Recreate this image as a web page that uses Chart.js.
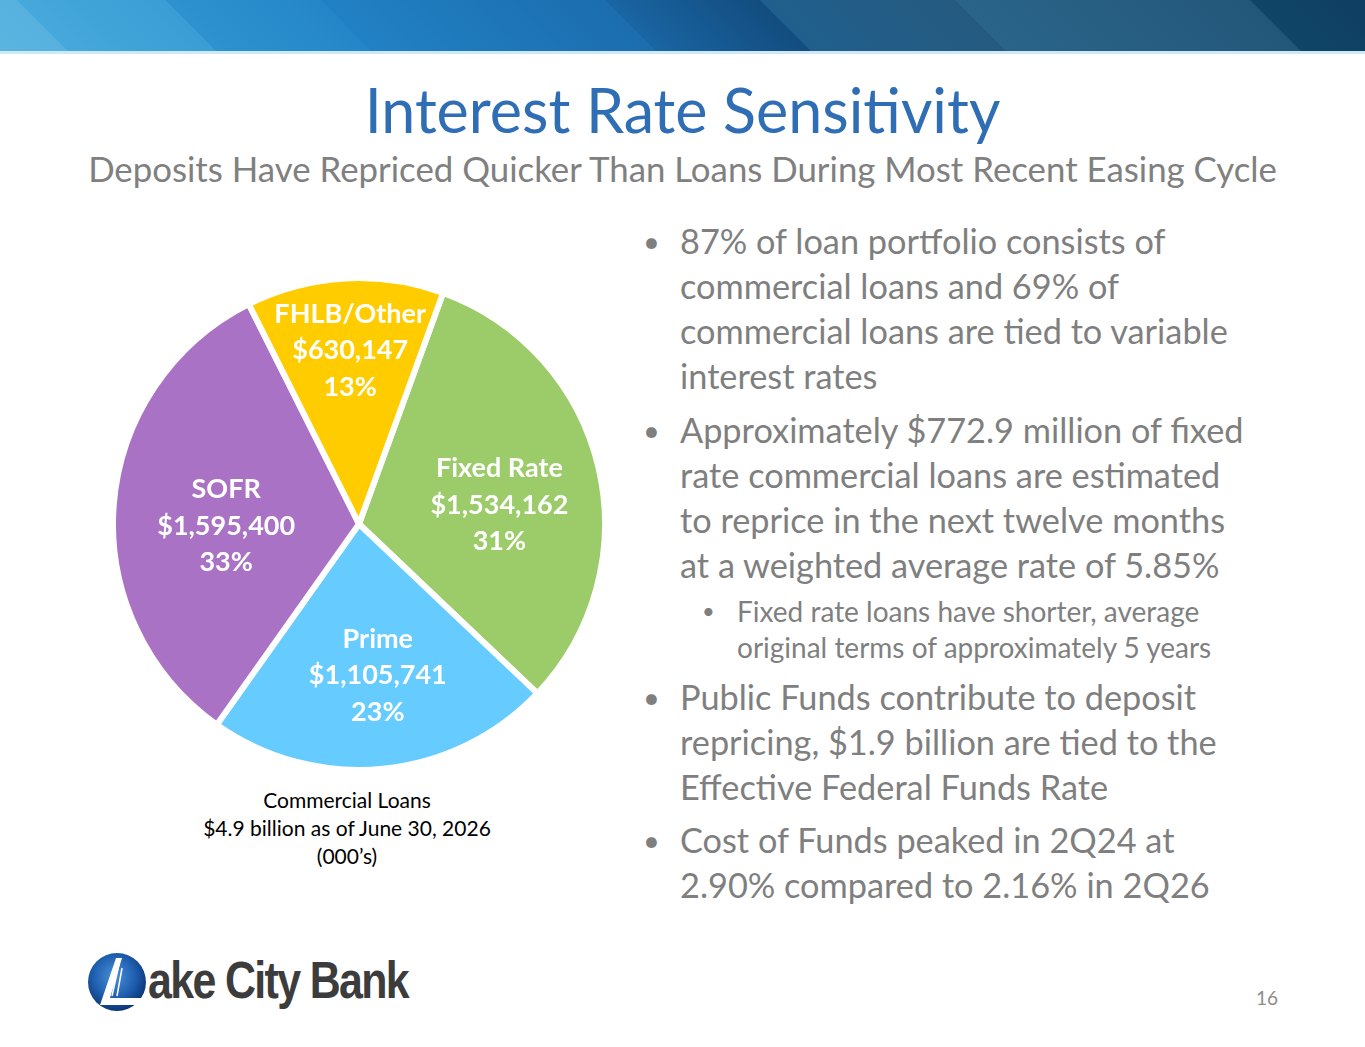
<!DOCTYPE html>
<html>
<head>
<meta charset="utf-8">
<title>Interest Rate Sensitivity</title>
<script src="https://cdn.jsdelivr.net/npm/chart.js@4.4.1/dist/chart.umd.min.js"></script>
<style>
    html, body { margin: 0; padding: 0; background: #FFFFFF; }
    #slide {
        position: relative;
        width: 1365px;
        height: 1047px;
        overflow: hidden;
        background: #FFFFFF;
        font-family: Lato, 'Open Sans', sans-serif;
        color: #7F7F7F;
    }

    /* Header banner dengan pita diagonal */
    .banner {
        position: absolute; left: 0; top: 0; width: 1365px; height: 51px;
        overflow: hidden;
        background: linear-gradient(90deg, #4FAEDD 0%, #2A8FCD 25%, #1C6FB0 45%, #165690 58%, #235E86 75%, #0E3D62 100%);
    }
    .band {
        position: absolute; top: 0; height: 51px;
        transform: skewX(45deg); transform-origin: 0 0;
    }
    .banner-line {
        position: absolute; left: 0; top: 51px; width: 1365px; height: 3px;
        background: #CFE8F6;
    }

    h1 {
        position: absolute; left: 0; top: 75px; width: 1365px; margin: 0;
        text-align: center; font-weight: 400; font-size: 61px; line-height: 70px;
        color: #2F6DB5;
    }
    .subtitle {
        position: absolute; left: 0; top: 149px; width: 1365px; margin: 0;
        text-align: center; font-size: 34.8px; line-height: 40px;
        color: #808080;
    }

    #loanPie { position: absolute; left: 110px; top: 275px; }

    .caption {
        position: absolute; left: 197px; top: 786px; width: 300px;
        text-align: center; font-size: 21px; line-height: 28px; color: #000000;
    }

    .bullet {
        position: absolute; left: 680px; width: 680px; white-space: nowrap;
        font-size: 34.3px; line-height: 45px; color: #7F7F7F;
    }
    .bullet::before {
        content: '\2022'; position: absolute; left: -37px; top: 0;
        font-size: 29px;
    }
    .bullet.sub {
        left: 737px; font-size: 28px; line-height: 36px;
    }
    .bullet.sub::before { left: -35px; font-size: 22px; }

    .page-no {
        position: absolute; left: 1256px; top: 986px; font-size: 19px; color: #8C8C8C;
    }

    .logo { position: absolute; left: 86px; top: 950px; }
    .logo-text {
        position: absolute; left: 148px; top: 948px;
        font-family: 'Liberation Sans', Arial, sans-serif; font-weight: 700;
        font-size: 52px; line-height: 64px; color: #3C3C3C; letter-spacing: -2px;
        transform-origin: 0 50%; white-space: nowrap;
    }
</style>
</head>
<body>
<div id="slide">
    <div class="banner" id="banner"></div>
    <div class="banner-line"></div>

    <h1>Interest Rate Sensitivity</h1>
    <div class="subtitle">Deposits Have Repriced Quicker Than Loans During Most Recent Easing Cycle</div>

    <canvas id="loanPie" width="498" height="498"></canvas>

    <div class="caption">Commercial Loans<br>$4.9 billion as of June 30, 2026<br>(000’s)</div>

    <div class="bullet" style="top:218px">87% of loan portfolio consists of<br>commercial loans and 69% of<br>commercial loans are tied to variable<br>interest rates</div>
    <div class="bullet" style="top:407px">Approximately $772.9 million of fixed<br>rate commercial loans are estimated<br>to reprice in the next twelve months<br>at a weighted average rate of 5.85%</div>
    <div class="bullet sub" style="top:593px">Fixed rate loans have shorter, average<br>original terms of approximately 5 years</div>
    <div class="bullet" style="top:674px">Public Funds contribute to deposit<br>repricing, $1.9 billion are tied to the<br>Effective Federal Funds Rate</div>
    <div class="bullet" style="top:817px">Cost of Funds peaked in 2Q24 at<br>2.90% compared to 2.16% in 2Q26</div>

    <svg class="logo" width="66" height="66" viewBox="0 0 66 66">
        <defs>
            <radialGradient id="globe" cx="0.45" cy="0.4" r="0.6">
                <stop offset="0" stop-color="#4A8FD8"/>
                <stop offset="0.6" stop-color="#1F5FB0"/>
                <stop offset="1" stop-color="#0C3576"/>
            </radialGradient>
        </defs>
        <circle cx="31" cy="32" r="29" fill="url(#globe)"/>
        <polygon points="30,8 36,8 24,48 66,48 66,55 14,55" fill="#FFFFFF"/>
        <line x1="33" y1="14" x2="26" y2="46" stroke="#FFFFFF" stroke-width="1.5"/>
        <line x1="36" y1="18" x2="31" y2="46" stroke="#FFFFFF" stroke-width="1.5"/>
    </svg>
    <div class="logo-text" id="logoText">ake City Bank</div>

    <div class="page-no">16</div>
</div>

<script>
// Data pinjaman komersial (dalam ribuan dolar)
const sliceLabels = ['Fixed Rate', 'Prime', 'SOFR', 'FHLB/Other'];
const sliceValues = [1534162, 1105741, 1595400, 630147];
const slicePercents = [31, 23, 33, 13];
const sliceColors = ['#9CCB69', '#66CCFF', '#AA72C4', '#FFCC00'];

// Pita diagonal pada header: [kiri, lebar, warna awal, warna akhir]
const bandStops = [
    [-60, 77, '#5CB5E0', '#56B1DF'],
    [17, 148, '#46A8DB', '#3A9ED5'],
    [165, 155, '#2D92CF', '#2486C8'],
    [320, 285, '#2181C4', '#1B6DAE'],
    [605, 155, '#1965A4', '#134C7E'],
    [760, 195, '#205F8D', '#255A80'],
    [955, 295, '#2A6489', '#23577A'],
    [1250, 200, '#104568', '#0D395C']
];

function drawBanner() {
    const banner = document.getElementById('banner');
    bandStops.forEach(([left, width, c1, c2]) => {
        const band = document.createElement('div');
        band.className = 'band';
        band.style.left = left + 'px';
        band.style.width = width + 'px';
        band.style.background = `linear-gradient(90deg, ${c1}, ${c2})`;
        banner.appendChild(band);
    });
}

function fitLogoText() {
    // Sesuaikan lebar teks logo ke kotak aslinya
    const el = document.getElementById('logoText');
    const w = el.getBoundingClientRect().width;
    el.style.transform = `scaleX(${260 / w})`;
}

// Plugin label di dalam tiap irisan pie
const sliceLabelPlugin = {
    id: 'sliceLabels',
    afterDatasetsDraw(chart, args, opts) {
        const ctx = chart.ctx;
        const meta = chart.getDatasetMeta(0);
        ctx.save();
        ctx.fillStyle = opts.color;
        ctx.font = opts.font;
        ctx.textAlign = 'center';
        ctx.textBaseline = 'middle';
        meta.data.forEach((arc, i) => {
            const p = arc.getProps(['x', 'y', 'startAngle', 'endAngle', 'outerRadius'], true);
            const place = opts.placement[i];
            const mid = (p.startAngle + p.endAngle) / 2 + place.shift * Math.PI / 180;
            const r = p.outerRadius * place.radius;
            const cx = p.x + Math.cos(mid) * r;
            const cy = p.y + Math.sin(mid) * r;
            const lines = [
                sliceLabels[i],
                '$' + sliceValues[i].toLocaleString('en-US'),
                slicePercents[i] + '%'
            ];
            lines.forEach((line, k) => {
                ctx.fillText(line, cx, cy + (k - 1) * opts.lineHeight);
            });
        });
        ctx.restore();
    }
};

function initPie() {
    const canvas = document.getElementById('loanPie');
    new Chart(canvas, {
        type: 'pie',
        data: {
            labels: sliceLabels,
            datasets: [{
                data: sliceValues,
                backgroundColor: sliceColors,
                borderColor: '#FFFFFF',
                borderWidth: 6
            }]
        },
        options: {
            responsive: false,
            animation: false,
            rotation: 20,
            layout: { padding: 0 },
            plugins: {
                legend: { display: false },
                tooltip: { enabled: false },
                sliceLabels: {
                    color: '#FFFFFF',
                    font: "700 27px Lato, 'Open Sans', sans-serif",
                    lineHeight: 36.5,
                    placement: [
                        { radius: 0.576, shift: 5.5 },
                        { radius: 0.62, shift: -1.5 },
                        { radius: 0.54, shift: -5.2 },
                        { radius: 0.705, shift: 0.4 }
                    ]
                }
            }
        },
        plugins: [sliceLabelPlugin]
    });
}

document.addEventListener('DOMContentLoaded', () => {
    drawBanner();
    fitLogoText();
    if (typeof Chart === 'undefined') {
        console.error('Chart.js is not loaded');
        return;
    }
    initPie();
});
</script>
</body>
</html>
